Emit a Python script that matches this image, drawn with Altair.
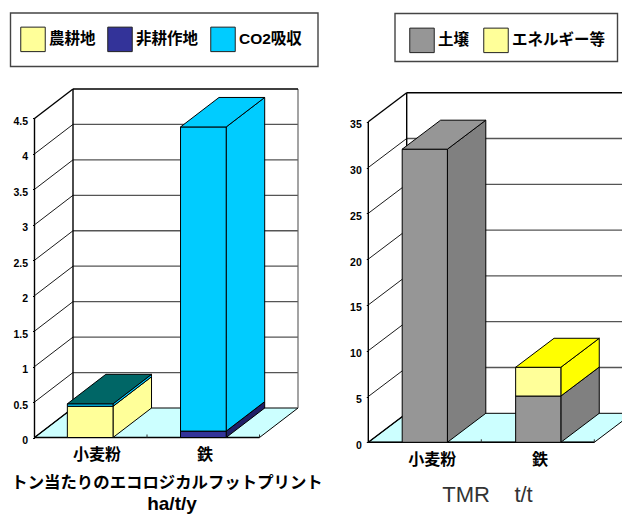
import altair as alt
import pandas as pd

FONT = "Liberation Sans, Noto Sans CJK JP"
HEIGHT = 515

# Footprint chart values (ha/t/y)
foot_categories = ["小麦粉", "鉄"]
foot_series = ["農耕地", "非耕作地", "CO2吸収"]
foot_farm = [0.44, 0.0]
foot_other = [0.0, 0.09]
foot_co2 = [0.035, 4.29]
foot_ticks = [0, 0.5, 1, 1.5, 2, 2.5, 3, 3.5, 4, 4.5]

# Total material requirement values (t/t)
tmr_categories = ["小麦粉", "鉄"]
tmr_series = ["土壌", "エネルギー等"]
tmr_soil = [32.0, 5.05]
tmr_energy = [0.0, 3.14]
tmr_ticks = [0, 5, 10, 15, 20, 25, 30, 35]


def box_3d(cfg):
    """Layered oblique-projection stacked bar panel driven by real scales."""
    w, ax, cw = cfg["width"], cfg["axis_x"], cfg["cat_px"]
    y0, ppu = cfg["base_y"], cfg["unit_px"]
    dx, dy = cfg["depth_x"] / cw, cfg["depth_y"] / ppu
    vmax = cfg["ticks"][-1]
    ncat = len(cfg["categories"])

    sx = alt.Scale(domain=[-ax / cw, (w - ax) / cw], nice=False, zero=False)
    sy = alt.Scale(domain=[(y0 - HEIGHT) / ppu, y0 / ppu], nice=False, zero=False)
    value_axis = alt.Axis(
        values=cfg["ticks"], format=".1~f", offset=-ax, domain=False, grid=False,
        tickColor="black", tickSize=2, labelFont="Liberation Sans", labelFontWeight="bold",
        labelFontSize=cfg["tick_font"], labelColor="black", labelPadding=cfg["label_pad"],
        labelOffset=3, title=None, labelOverlap=False,
    )
    X = lambda f="x": alt.X(f"{f}:Q", scale=sx, axis=None)
    Y = lambda f="y": alt.Y(f"{f}:Q", scale=sy, axis=value_axis)
    X2 = alt.X2("x2:Q")
    Y2 = alt.Y2("y2:Q")

    # Faces of every stacked segment, in data units
    fronts, sides, tops = [], [], []
    for i, cat in enumerate(cfg["categories"]):
        left = i + cfg["bar_start"] + (cfg["bar_step"] - 1) * i
        right = left + cfg["bar_w"]
        base = 0.0
        for name, vals, side in zip(cfg["series"], cfg["values"], cfg["side_fill"]):
            v = vals[i]
            if v <= 0:
                continue
            top = base + v
            fronts.append(dict(series=name, x=left, x2=right, y=base, y2=top))
            face = f"{cat}-{name}"
            sides.append(dict(face=face, fill=side, x=right, y=base, y2=top))
            sides.append(dict(face=face, fill=side, x=right + dx, y=base + dy, y2=top + dy))
            base = top
        tops.append(dict(face=cat, fill=cfg["top_fill"][i], y=base, x=left, x2=right))
        tops.append(dict(face=cat, fill=cfg["top_fill"][i], y=base + dy, x=left + dx, x2=right + dx))

    floor = pd.DataFrame([
        dict(y=0.0, x=0.0, x2=float(ncat)),
        dict(y=dy, x=dx, x2=ncat + dx),
    ])

    # Walls: gridlines on the back and the left side
    grid = [t for t in cfg["ticks"] if 0 < t < vmax]
    back = pd.DataFrame([dict(x=dx, x2=ncat + dx, y=t + dy) for t in grid])
    side_lines = pd.DataFrame([dict(x=0.0, x2=dx, y=float(t), y2=t + dy) for t in grid])
    frame = pd.DataFrame([
        dict(x=0.0, x2=0.0, y=0.0, y2=vmax),
        dict(x=dx, x2=dx, y=dy, y2=vmax + dy),
        dict(x=dx, x2=ncat + dx, y=vmax + dy, y2=vmax + dy),
        dict(x=0.0, x2=dx, y=vmax, y2=vmax + dy),
        dict(x=0.0, x2=dx, y=0.0, y2=dy),
        dict(x=0.0, x2=float(ncat), y=0.0, y2=0.0),
    ])
    right_wall = pd.DataFrame([dict(x=ncat + dx, x2=ncat + dx, y=dy, y2=vmax + dy)])
    cat_ticks = pd.DataFrame([dict(x=float(k), x2=float(k), y=0.0, y2=3 / ppu) for k in range(1, ncat + 1)])

    b = cfg["box"]
    box = alt.Chart(pd.DataFrame([{"k": 0}])).mark_rect(
        fill="white", stroke="#444444", strokeWidth=1.4
    ).encode(x=alt.value(b[0]), x2=alt.value(b[1]), y=alt.value(b[2]), y2=alt.value(b[3]))

    floor_l = alt.Chart(floor).mark_area(
        orient="horizontal", fill="#CCFFFF", stroke="black", strokeWidth=1, clip=True
    ).encode(y=Y(), x=X(), x2=X2)
    back_l = alt.Chart(back).mark_rule(color="#555555", strokeWidth=1.3, clip=True).encode(x=X(), x2=X2, y=Y())
    side_l = alt.Chart(side_lines).mark_rule(color="black", strokeWidth=0.9).encode(x=X(), x2=X2, y=Y(), y2=Y2)
    wall_l = alt.Chart(right_wall).mark_rule(color="#666666", strokeWidth=1.2, clip=True).encode(x=X(), x2=X2, y=Y(), y2=Y2)
    frame_l = alt.Chart(frame).mark_rule(color="black", strokeWidth=1.4, clip=True).encode(x=X(), x2=X2, y=Y(), y2=Y2)
    tick_l = alt.Chart(cat_ticks).mark_rule(color="#333333", strokeWidth=1, clip=True).encode(x=X(), x2=X2, y=Y(), y2=Y2)

    side_f = alt.Chart(pd.DataFrame(sides)).mark_area(stroke="black", strokeWidth=1, clip=True).encode(
        x=X(), y=Y(), y2=Y2,
        fill=alt.Fill("fill:N", scale=None),
        detail="face:N",
    )
    top_f = alt.Chart(pd.DataFrame(tops)).mark_area(
        orient="horizontal", stroke="black", strokeWidth=1, clip=True
    ).encode(
        y=Y(), x=X(), x2=X2,
        fill=alt.Fill("fill:N", scale=None),
        detail="face:N",
    )
    front_f = alt.Chart(pd.DataFrame(fronts)).mark_rect(stroke="black", strokeWidth=1).encode(
        x=X(), x2=X2,
        y=Y(), y2=Y2,
        color=alt.Color(
            "series:N", sort=None,
            scale=alt.Scale(domain=cfg["series"], range=cfg["front_fill"]),
            legend=alt.Legend(
                orient="none", legendX=cfg["legend_xy"][0], legendY=cfg["legend_xy"][1],
                direction="horizontal", columns=len(cfg["series"]), title=None,
                symbolType="square", symbolSize=cfg["symbol_size"], symbolStrokeColor="#222222",
                symbolStrokeWidth=1, symbolOpacity=1, padding=0,
                columnPadding=cfg["legend_gap"], labelOffset=3,
                labelFont=FONT, labelFontWeight="bold", labelFontSize=15.5, labelColor="black",
                labelLimit=200, values=cfg["series"],
            ),
        ),
    )

    cat_df = pd.DataFrame(dict(label=cfg["categories"], x=cfg["label_x"], y=[0.0] * ncat))
    cat_txt = alt.Chart(cat_df).mark_text(
        font=FONT, fontWeight="bold", fontSize=16, color="black", dy=cfg["label_dy"], baseline="middle"
    ).encode(x=X(), y=Y(), text="label:N")

    captions = []
    for text, px, py, style in cfg["captions"]:
        cap = pd.DataFrame([dict(t=text, x=(px - ax) / cw, y=(y0 - py) / ppu)])
        captions.append(
            alt.Chart(cap).mark_text(baseline="middle", font=FONT, clip=True, **style).encode(x=X(), y=Y(), text="t:N")
        )

    return alt.layer(
        box, floor_l, back_l, wall_l, side_l, frame_l, tick_l, side_f, front_f, top_f, cat_txt, *captions
    ).properties(width=w, height=HEIGHT)


foot = box_3d(dict(
    width=340, axis_x=34.5, cat_px=112.5, base_y=437.5, unit_px=70.9,
    depth_x=38.5, depth_y=29.5,
    categories=foot_categories, series=foot_series,
    values=[foot_farm, foot_other, foot_co2], ticks=foot_ticks,
    front_fill=["#FFFF99", "#333399", "#00CCFF"],
    side_fill=["#FFFF99", "#1F1F66", "#00CCFF"],
    top_fill=["#006666", "#00CCFF"],
    bar_start=0.292, bar_step=1.006, bar_w=0.406,
    label_x=[0.556, 1.516], label_dy=17,
    tick_font=10.5, label_pad=5,
    box=(10.5, 318, 13, 66.5), legend_xy=(20, 26), legend_gap=9, symbol_size=600,
    captions=[
        ("トン当たりのエコロジカルフットプリント", 167, 483, dict(fontSize=16.4, fontWeight="bold", color="black")),
        ("ha/t/y", 172, 504, dict(fontSize=19, fontWeight="bold", color="black")),
    ],
))

tmr = box_3d(dict(
    width=282, axis_x=28.3, cat_px=113, base_y=442.3, unit_px=9.16,
    depth_x=38.4, depth_y=29,
    categories=tmr_categories, series=tmr_series,
    values=[tmr_soil, tmr_energy], ticks=tmr_ticks,
    front_fill=["#969696", "#FFFF99"],
    side_fill=["#808080", "#FFFF00"],
    top_fill=["#969696", "#FFFF00"],
    bar_start=0.30, bar_step=1.004, bar_w=0.40,
    label_x=[0.566, 1.52], label_dy=17.5,
    tick_font=10.5, label_pad=5,
    box=(55, 277.5, 13.5, 61.5), legend_xy=(69, 27), legend_gap=11, symbol_size=600,
    captions=[
        ("TMR\u00a0\u00a0\u00a0\u00a0t/t", 147.5, 495, dict(fontSize=22, color="#333333")),
    ],
))

chart = alt.hconcat(foot, tmr, spacing=0).properties(
    padding=0, background="white"
).configure_view(strokeWidth=0).resolve_scale(color="independent")

chart.save("out.html", embed_options={"renderer": "svg", "actions": False})
